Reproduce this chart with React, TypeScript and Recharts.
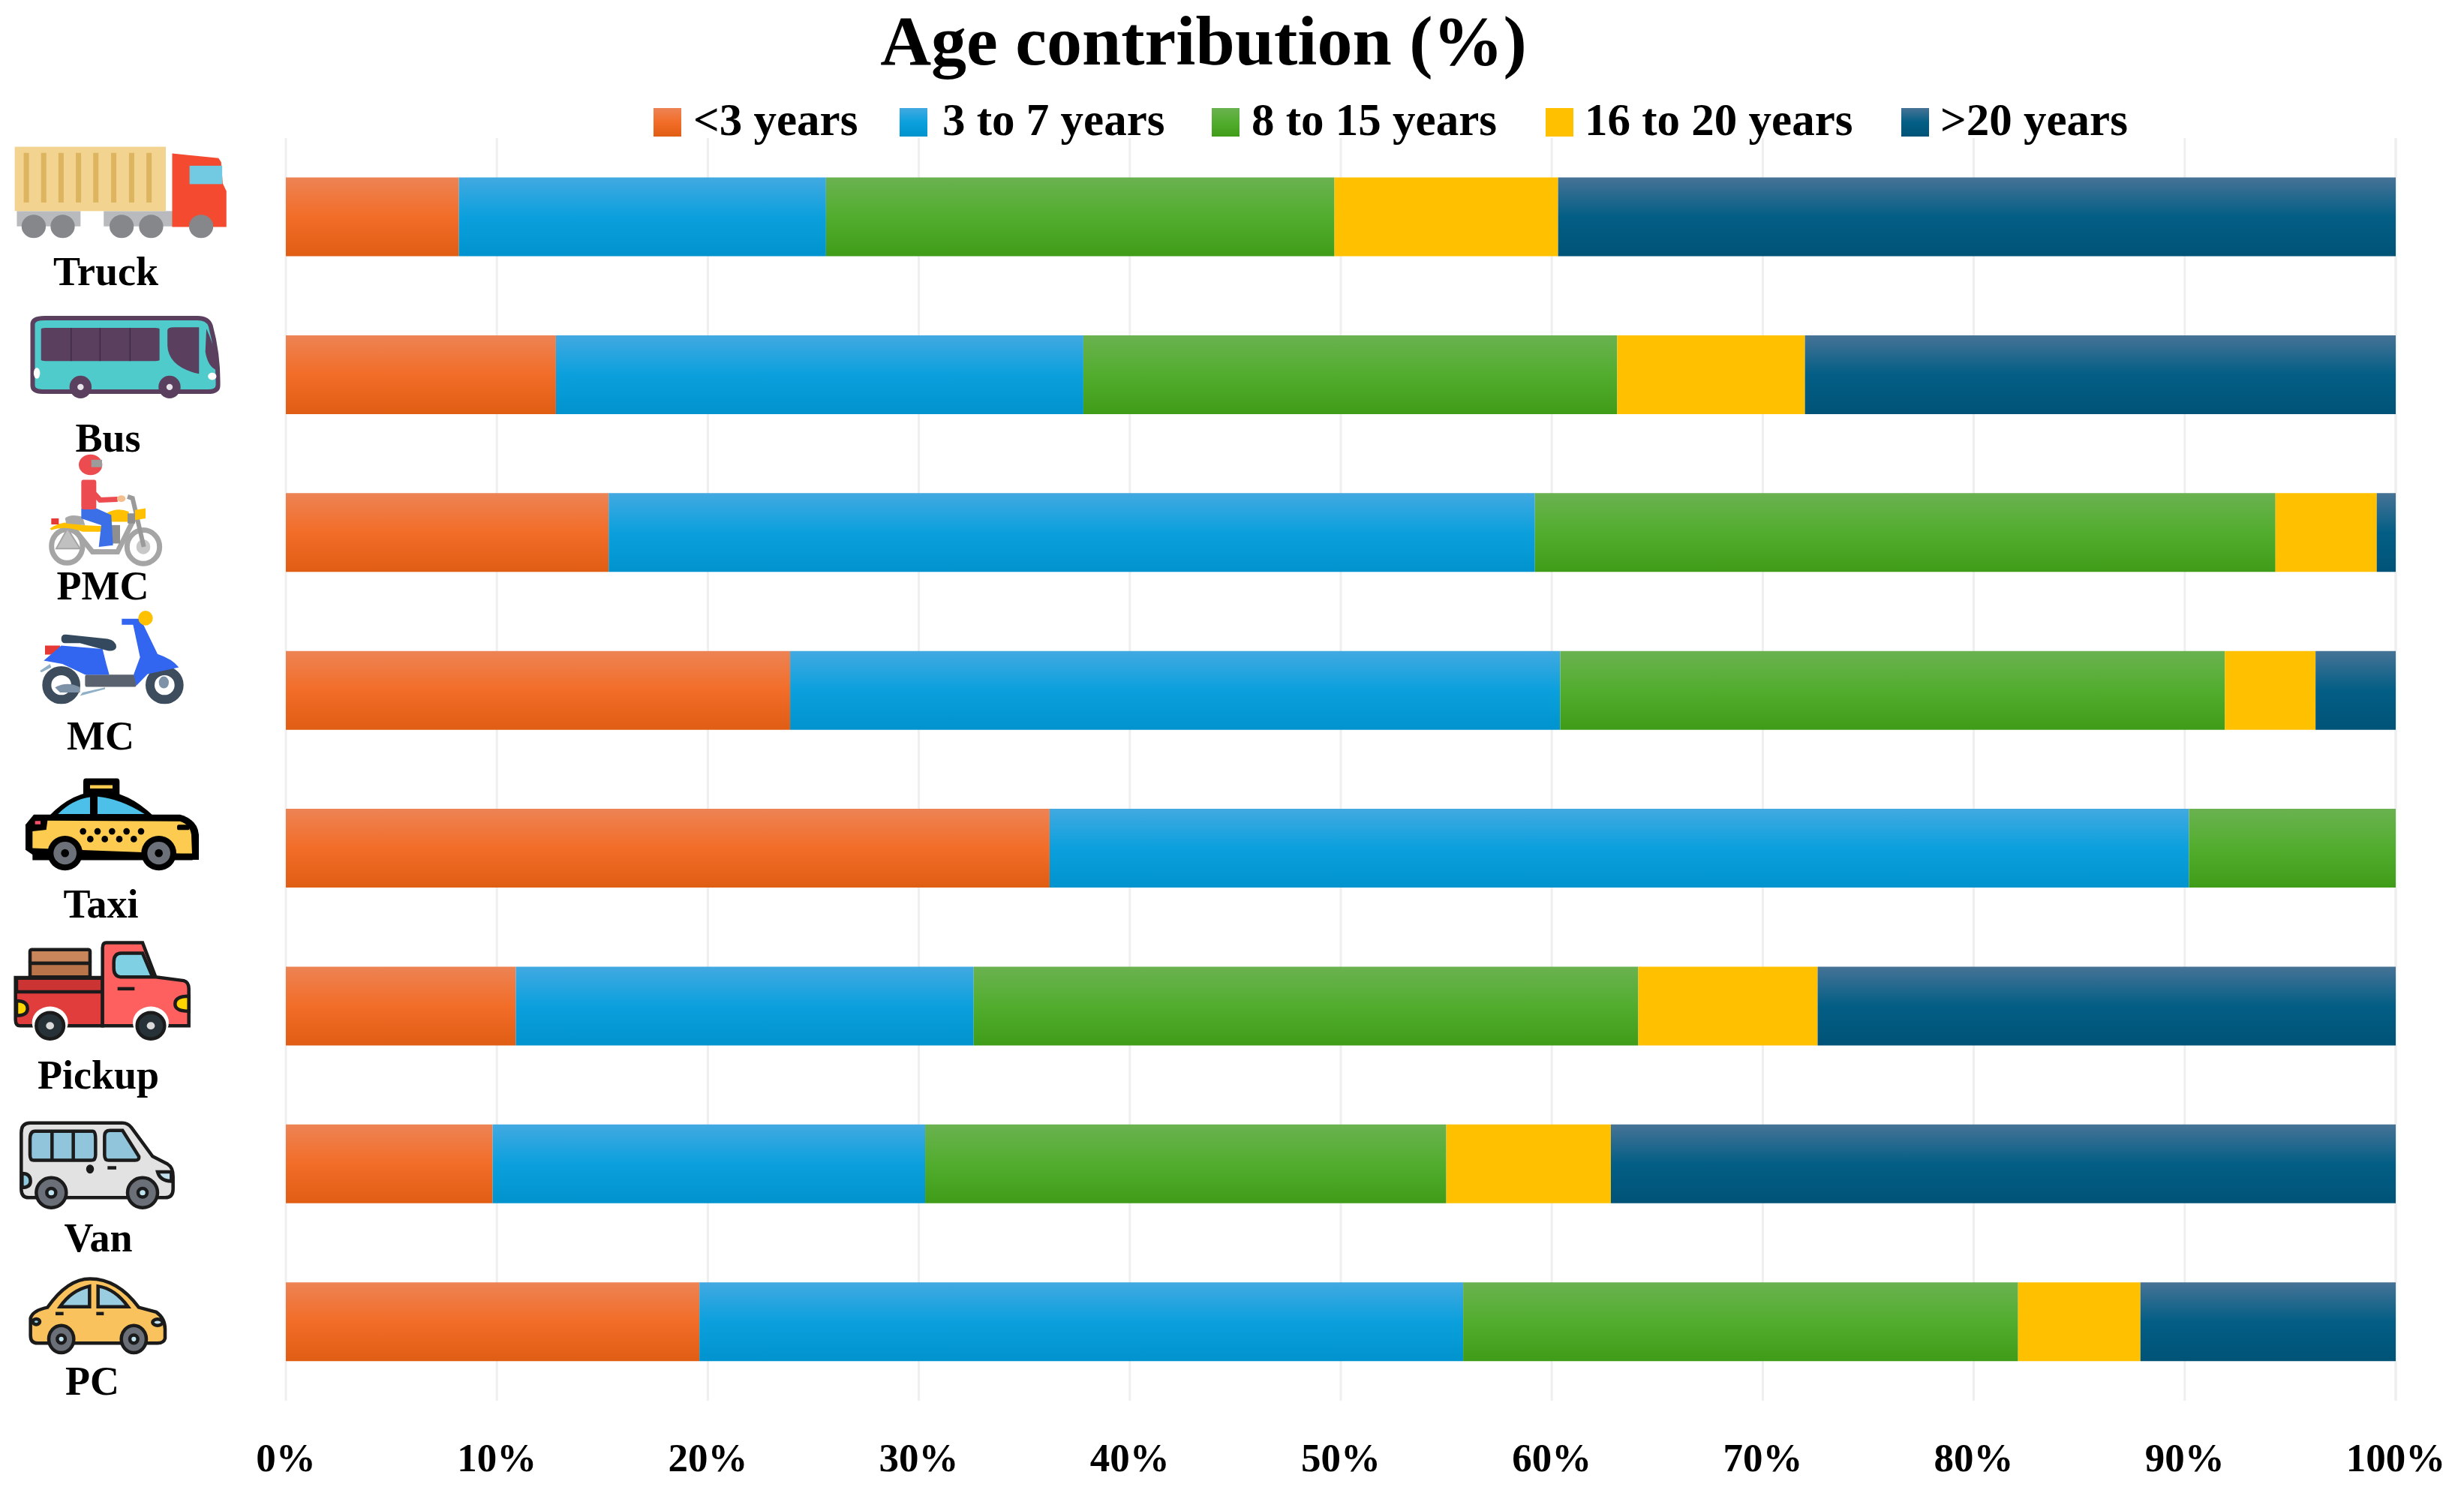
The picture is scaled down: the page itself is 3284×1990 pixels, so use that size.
import React from "react";
import { BarChart, Bar, XAxis, YAxis, CartesianGrid, Legend } from "recharts";

const vehicles = ["Truck", "Bus", "PMC", "MC", "Taxi", "Pickup", "Van", "PC"];
const seriesNames = ["<3 years", "3 to 7 years", "8 to 15 years", "16 to 20 years", ">20 years"];
const seriesKeys = ["under3", "from3to7", "from8to15", "from16to20", "over20"];
const under3 = [8.2, 12.8, 15.3, 23.9, 36.2, 10.9, 9.8, 19.6];
const from3to7 = [17.4, 25.0, 43.9, 36.5, 54.0, 21.7, 20.5, 36.2];
const from8to15 = [24.1, 25.3, 35.1, 31.5, 9.8, 31.5, 24.7, 26.3];
const from16to20 = [10.6, 8.9, 4.8, 4.3, 0, 8.5, 7.8, 5.8];
const over20 = [39.7, 28.0, 0.9, 3.8, 0, 27.4, 37.2, 12.1];
const xTicks = [0, 10, 20, 30, 40, 50, 60, 70, 80, 90, 100];
const seriesValues = [under3, from3to7, from8to15, from16to20, over20];

const rows = vehicles.map((name, i) => {
  const row: Record<string, any> = { name };
  seriesKeys.forEach((k, j) => (row[k] = seriesValues[j][i]));
  return row;
});

const FONT = '"Liberation Serif", serif';
const GRADS = [
  { id: "gOrange", stops: ["#ED8354", "#F26D28", "#E05D14"] },
  { id: "gBlue", stops: ["#42A9E1", "#0BA0DD", "#0093CE"] },
  { id: "gGreen", stops: ["#6AB250", "#52AD2E", "#3F9C18"] },
  { id: "gYellow", stops: ["#FFC000", "#FFC000", "#FFC000"] },
  { id: "gNavy", stops: ["#467396", "#035E85", "#005377"] },
];

const LEGEND_SWATCH_X = [871, 1199, 1615, 2060, 2534];
const LEGEND_TEXT_X = [924, 1256, 1668, 2112, 2586];

const FRAMES: Record<string, any> = {
  Truck: { sx: 1 / 1.425, sy: 1 / 2.45, oy: -289.5, lx: 141, ly: 90.5 },
  Bus: { sx: 1 / 1.425, sy: 1 / 2.45, oy: -500, lx: 144, ly: 102 },
  PMC: { sx: 1 / 3, sy: 1 / 2.24, oy: -110.5, lx: 137, ly: 89.5 },
  MC: { sx: 1 / 3, sy: 1 / 2.24, oy: -321, lx: 134, ly: 78.5 },
  Taxi: { sx: 1 / 3, sy: 1 / 2.24, oy: -531.5, lx: 134.5, ly: 92.5 },
  Pickup: { sx: 1 / 3, sy: 1 / 2.412, oy: -92, lx: 131, ly: 110 },
  Van: { sx: 1 / 3, sy: 1 / 2.412, oy: -302.5, lx: 131, ly: 116.5 },
  PC: { sx: 1 / 3, sy: 1 / 2.412, oy: -512.6, lx: 123, ly: 97.4 },
};

const TruckIcon = () => (
  <g>
    <rect x={32} y={690} width={121} height={50} fill="#B8BABD" />
    <rect x={197} y={690} width={135} height={50} fill="#B8BABD" />
    <rect x={28} y={480} width={287} height={210} fill="#F2D38F" />
    {[50, 83, 116, 149, 182, 216, 250, 283].map((x) => (
      <rect key={x} x={x - 5} y={500} width={10} height={162} fill="#DDB560" />
    ))}
    <path d="M327 502 L415 517 L420 530 L423 600 L430 625 L430 742 L327 742 Z" fill="#F44A30" />
    <rect x={360} y={542} width={62} height={60} fill="#72C9E2" />
    {[64, 119, 231, 287, 382].map((x) => (
      <ellipse key={x} cx={x} cy={740} rx={23} ry={38} fill="#85878A" />
    ))}
  </g>
);

const BusIcon = () => (
  <g>
    <path d="M62 1060 Q62 1040 85 1040 L375 1040 Q395 1040 400 1065 Q415 1160 414 1260 Q414 1280 395 1280 L80 1280 Q62 1280 62 1260 Z" fill="#4FCBCB" stroke="#5A3F5F" strokeWidth={6} />
    <rect x={78} y={1072} width={225} height={108} rx={8} ry={4} fill="#5A3F5F" />
    {[135, 190, 247].map((x) => (
      <line key={x} x1={x} x2={x} y1={1072} y2={1180} stroke="#3F2C46" strokeWidth={1.5} />
    ))}
    <path d="M318 1080 Q318 1070 330 1070 L378 1070 L378 1222 Q320 1200 318 1130 Z" fill="#5A3F5F" />
    <path d="M392 1075 Q412 1150 412 1210 Q395 1200 390 1150 Z" fill="#5A3F5F" />
    <ellipse cx={70} cy={1220} rx={6} ry={18} fill="#FFFFFF" />
    <ellipse cx={403} cy={1230} rx={8} ry={12} fill="#FFFFFF" />
    {[153, 322].map((x) => (
      <g key={x}>
        <ellipse cx={x} cy={1265} rx={21} ry={37} fill="#5A3F5F" />
        <ellipse cx={x} cy={1265} rx={6} ry={10} fill="#E8E4EA" />
      </g>
    ))}
  </g>
);

const PmcIcon = () => (
  <g>
    <ellipse cx={268} cy={288} rx={62} ry={50} fill="#FFFFFF" stroke="#A5A5A5" strokeWidth={7} />
    <ellipse cx={573} cy={290} rx={65} ry={50} fill="#FFFFFF" stroke="#A5A5A5" strokeWidth={7} />
    <ellipse cx={573} cy={290} rx={28} ry={22} fill="#C8C8C8" />
    <path d="M225 295 L320 295 L270 235 Z" fill="#C0C0C0" stroke="#A5A5A5" strokeWidth={2} />
    <path d="M300 240 L370 305 L470 305 L540 200" fill="none" stroke="#A5A5A5" strokeWidth={7} />
    <path d="M510 140 L530 145 L575 290" fill="none" stroke="#9A9A9A" strokeWidth={6} />
    <path d="M200 235 Q260 205 330 225 L410 228 L410 245 L330 245 Q260 225 205 240 Z" fill="#FFC000" />
    <path d="M425 190 Q470 170 515 185 L515 215 L430 215 Z" fill="#FFC000" />
    <path d="M540 180 L582 175 L582 205 L540 210 Z" fill="#FFC000" />
    <rect x={205} y={205} width={30} height={18} fill="#E53935" />
    <path d="M260 205 Q280 190 330 200 L340 225 L265 220 Z" fill="#A8A8A8" />
    <rect x={430} y={225} width={50} height={55} fill="#8F8F8F" />
    <rect x={510} y={190} width={30} height={30} fill="#8F8F8F" />
    <path d="M325 175 L385 175 L445 195 L452 285 L395 290 L405 225 L325 205 Z" fill="#3B6FE8" />
    <rect x={325} y={90} width={60} height={88} rx={8} fill="#EC4B4F" />
    <path d="M345 105 L400 150 L470 148" fill="none" stroke="#EC4B4F" strokeWidth={7} />
    <ellipse cx={485} cy={146} rx={17} ry={10} fill="#F5BE8D" />
    <ellipse cx={362} cy={45} rx={47} ry={31} fill="#EC4B4F" />
    <rect x={365} y={30} width={43} height={22} fill="#9C9C9C" />
  </g>
);

const McIcon = () => (
  <g>
    <ellipse cx={245} cy={703} rx={58} ry={43} fill="#FFFFFF" stroke="#3D4D5E" strokeWidth={12} />
    <ellipse cx={658} cy={703} rx={58} ry={43} fill="#FFFFFF" stroke="#3D4D5E" strokeWidth={12} />
    <path d="M220 710 Q270 690 320 710 L320 725 L240 725 Z" fill="#7D92A6" />
    <path d="M160 660 L200 640 L205 650 L165 665 Z" fill="#8FB0C6" />
    <path d="M330 725 L420 710 L420 715 L320 735 Z" fill="#8FB0C6" />
    <ellipse cx={655} cy={695} rx={20} ry={18} fill="#7D92A6" />
    <rect x={340} y={672} width={205} height={36} rx={6} fill="#5A6270" />
    <rect x={180} y={585} width={60} height={27} fill="#E53935" />
    <path d="M175 630 L245 585 L410 595 L425 640 L437 672 L340 672 L250 640 Z" fill="#3366F0" />
    <path d="M245 565 Q245 550 265 552 L430 565 Q465 570 465 590 Q460 603 430 600 L320 578 L260 578 Q245 578 245 565 Z" fill="#34495E" />
    <path d="M530 515 L565 510 L630 610 Q690 625 715 650 L590 670 L545 705 L535 670 L560 620 Z" fill="#3366F0" />
    <path d="M487 505 L555 505 L560 523 L487 523 Z" fill="#3366F0" />
    <ellipse cx={582} cy={503} rx={29} ry={22} fill="#FFC000" />
  </g>
);

const TaxiIcon = () => (
  <g>
    <rect x={333} y={982} width={145} height={60} rx={10} fill="#000" />
    <rect x={360} y={1002} width={90} height={10} fill="#FCCB50" />
    <path d="M195 1095 Q290 1020 405 1020 Q510 1020 615 1095 Z" fill="#000" />
    <path d="M232 1088 Q290 1045 360 1038 L360 1088 Z" fill="#4CC0E8" />
    <path d="M390 1036 Q480 1042 578 1088 L390 1088 Z" fill="#4CC0E8" />
    <path d="M102 1120 L135 1090 L720 1090 Q790 1105 795 1150 L795 1225 L160 1225 L102 1195 Z" fill="#000" />
    <path d="M130 1140 L185 1135 L190 1108 L720 1110 Q760 1120 765 1150 L768 1208 L130 1190 Z" fill="#FCCB50" />
    {[332, 390, 448, 506, 564].map((x) => (
      <ellipse key={x} cx={x} cy={1140} rx={13} ry={10} fill="#000" />
    ))}
    {[361, 419, 477, 535].map((x) => (
      <ellipse key={x} cx={x} cy={1163} rx={13} ry={10} fill="#000" />
    ))}
    <rect x={130} y={1206} width={640} height={20} fill="#000" />
    {[260, 635].map((x) => (
      <g key={x}>
        <ellipse cx={x} cy={1205} rx={70} ry={52} fill="#000" />
        <ellipse cx={x} cy={1205} rx={46} ry={34} fill="#6C7179" />
        <ellipse cx={x} cy={1205} rx={16} ry={12} fill="#000" />
      </g>
    ))}
    <rect x={140} y={1109} width={22} height={10} fill="#F4506A" />
    <rect x={708} y={1120} width={50} height={16} rx={6} fill="#000" />
  </g>
);

const PickupIcon = () => (
  <g stroke="#1B1B1B" strokeWidth={4.5}>
    <rect x={120} y={40} width={240} height={44} rx={6} fill="#C8865A" />
    <rect x={120} y={84} width={240} height={44} fill="#B9744A" />
    <path d="M62 130 L410 130 L410 285 L80 285 Q62 285 62 265 Z" fill="#E23D3D" />
    <rect x={66} y={132} width={344} height={44} fill="#CC3434" />
    <path d="M410 35 Q410 18 425 18 L570 18 L622 128 L735 140 Q755 145 755 165 L755 285 L410 285 Z" fill="#FE6060" />
    <path d="M455 80 Q455 52 485 52 L570 52 L610 128 L480 128 Q455 125 455 100 Z" fill="#7FD0E3" />
    <line x1={470} x2={538} y1={166} y2={166} />
    <path d="M755 190 Q700 190 700 215 Q700 238 755 238 Z" fill="#FFD500" />
    <path d="M66 205 Q110 205 110 230 Q110 252 66 252 Z" fill="#FFD500" />
    {[200, 603].map((x) => (
      <g key={x}>
        <ellipse cx={x} cy={275} rx={72} ry={52} fill="#FFFFFF" stroke="none" />
        <ellipse cx={x} cy={285} rx={55} ry={42} fill="#263238" />
        <ellipse cx={x} cy={285} rx={16} ry={12} fill="#DADADA" stroke="none" />
      </g>
    ))}
  </g>
);

const VanIcon = () => (
  <g stroke="#1B1B1B" strokeWidth={4.5}>
    <path d="M85 630 Q85 598 120 598 L490 598 Q510 598 525 612 L610 705 L670 730 Q692 740 692 770 L692 810 Q692 838 660 838 L115 838 Q85 838 85 810 Z" fill="#E2E2E2" />
    <path d="M120 650 Q120 624 140 624 L370 624 Q382 624 382 650 L382 700 Q382 718 365 718 L135 718 Q120 718 120 700 Z" fill="#90C5DC" />
    <line x1={208} x2={208} y1={624} y2={718} />
    <line x1={293} x2={293} y1={624} y2={718} />
    <path d="M418 640 Q418 622 440 622 L490 622 L555 705 Q558 718 540 718 L435 718 Q418 718 418 700 Z" fill="#90C5DC" />
    <line x1={430} x2={465} y1={742} y2={742} />
    <ellipse cx={360} cy={746} rx={9} ry={9} fill="#1B1B1B" />
    <path d="M88 760 Q122 760 122 785 Q122 805 88 805 Z" fill="#8FC9DE" />
    <path d="M630 755 L685 755 L685 785 Q640 785 630 755 Z" fill="#BFE0EC" />
    {[205, 570].map((x) => (
      <g key={x}>
        <ellipse cx={x} cy={822} rx={60} ry={48} fill="#6A6F78" />
        <ellipse cx={x} cy={822} rx={18} ry={14} fill="#BEE4F0" />
      </g>
    ))}
  </g>
);

const PcIcon = () => (
  <g stroke="#1B1B1B" strokeWidth={4.5}>
    <path d="M190 1190 Q270 1098 360 1098 Q470 1098 555 1190 L625 1205 Q660 1225 660 1260 L660 1290 Q655 1305 630 1305 L150 1305 Q122 1305 122 1280 L122 1225 Q130 1200 190 1190 Z" fill="#F9C25C" />
    <path d="M240 1188 Q285 1135 358 1122 L358 1188 Z" fill="#9ACDE0" />
    <path d="M392 1122 Q460 1130 512 1188 L392 1188 Z" fill="#9ACDE0" />
    <line x1={222} x2={254} y1={1210} y2={1210} />
    <line x1={385} x2={415} y1={1210} y2={1210} />
    <ellipse cx={145} cy={1236} rx={14} ry={9} fill="#8FC9DE" />
    <ellipse cx={630} cy={1238} rx={20} ry={10} fill="#BFE0EC" />
    {[245, 535].map((x) => (
      <g key={x}>
        <ellipse cx={x} cy={1292} rx={50} ry={44} fill="#6A6F78" />
        <ellipse cx={x} cy={1292} rx={16} ry={13} fill="#BEE4F0" />
      </g>
    ))}
  </g>
);

const ICONS: Record<string, React.FC> = {
  Truck: TruckIcon,
  Bus: BusIcon,
  PMC: PmcIcon,
  MC: McIcon,
  Taxi: TaxiIcon,
  Pickup: PickupIcon,
  Van: VanIcon,
  PC: PcIcon,
};

function VehicleTick({ y, payload }: any) {
  const name = payload.value;
  const f = FRAMES[name];
  const Icon = ICONS[name];
  return (
    <g>
      <g className="veh" transform={`translate(0 ${y + f.oy}) scale(${f.sx} ${f.sy})`}>
        <Icon />
      </g>
      <text x={f.lx} y={y + f.ly} textAnchor="middle" fontFamily={FONT} fontWeight={700} fontSize={54} fill="#000">
        {name}
      </text>
    </g>
  );
}

function AgeLegend({ payload }: any) {
  const byName: Record<string, any> = {};
  (payload || []).forEach((e: any) => (byName[e.value] = e));
  return (
    <svg width={3284} height={210} style={{ display: "block" }}>
      {seriesNames.map((name, i) => (
        <g key={name}>
          <rect x={LEGEND_SWATCH_X[i]} y={144} width={37} height={38} fill={byName[name]?.color} />
          <text x={LEGEND_TEXT_X[i]} y={180} fontFamily={FONT} fontWeight={700} fontSize={61} fill="#000">
            {name}
          </text>
        </g>
      ))}
    </svg>
  );
}

export default function App() {
  return (
    <div style={{ position: "absolute", left: 0, top: 0, width: 3284, height: 1990, background: "#fff" }}>
      <style>{`.veh * { vector-effect: non-scaling-stroke; }`}</style>
      <BarChart
        width={3284}
        height={1990}
        data={rows}
        layout="vertical"
        barCategoryGap="25%"
        margin={{ top: 184, right: 91, bottom: 0, left: 0 }}
      >
        <defs>
          {GRADS.map((g) => (
            <linearGradient key={g.id} id={g.id} x1="0" y1="0" x2="0" y2="1">
              <stop offset="0%" stopColor={g.stops[0]} />
              <stop offset="50%" stopColor={g.stops[1]} />
              <stop offset="100%" stopColor={g.stops[2]} />
            </linearGradient>
          ))}
        </defs>
        <text x={1604} y={86} textAnchor="middle" fontFamily={FONT} fontWeight={700} fontSize={94} fill="#000">
          Age contribution (%)
        </text>
        <CartesianGrid vertical horizontal={false} stroke="#EFEFEF" strokeWidth={3} />
        <XAxis
          type="number"
          domain={[0, 100]}
          ticks={xTicks}
          height={123}
          axisLine={false}
          tickLine={false}
          tickMargin={50}
          tickFormatter={(v: number) => `${v}%`}
          tick={{ fontFamily: FONT, fontWeight: 700, fontSize: 53, fill: "#000" }}
          interval={0}
        />
        <YAxis
          type="category"
          dataKey="name"
          width={381}
          axisLine={false}
          tickLine={false}
          interval={0}
          tick={(props: any) => <VehicleTick {...props} />}
        />
        <Legend
          layout="horizontal"
          verticalAlign="middle"
          align="center"
          content={<AgeLegend />}
          wrapperStyle={{ position: "absolute", left: 0, top: 0, width: 3284, height: 210 }}
        />
        {seriesKeys.map((k, i) => (
          <Bar key={k} dataKey={k} name={seriesNames[i]} stackId="age" fill={`url(#${GRADS[i].id})`} isAnimationActive={false} />
        ))}
      </BarChart>
    </div>
  );
}
